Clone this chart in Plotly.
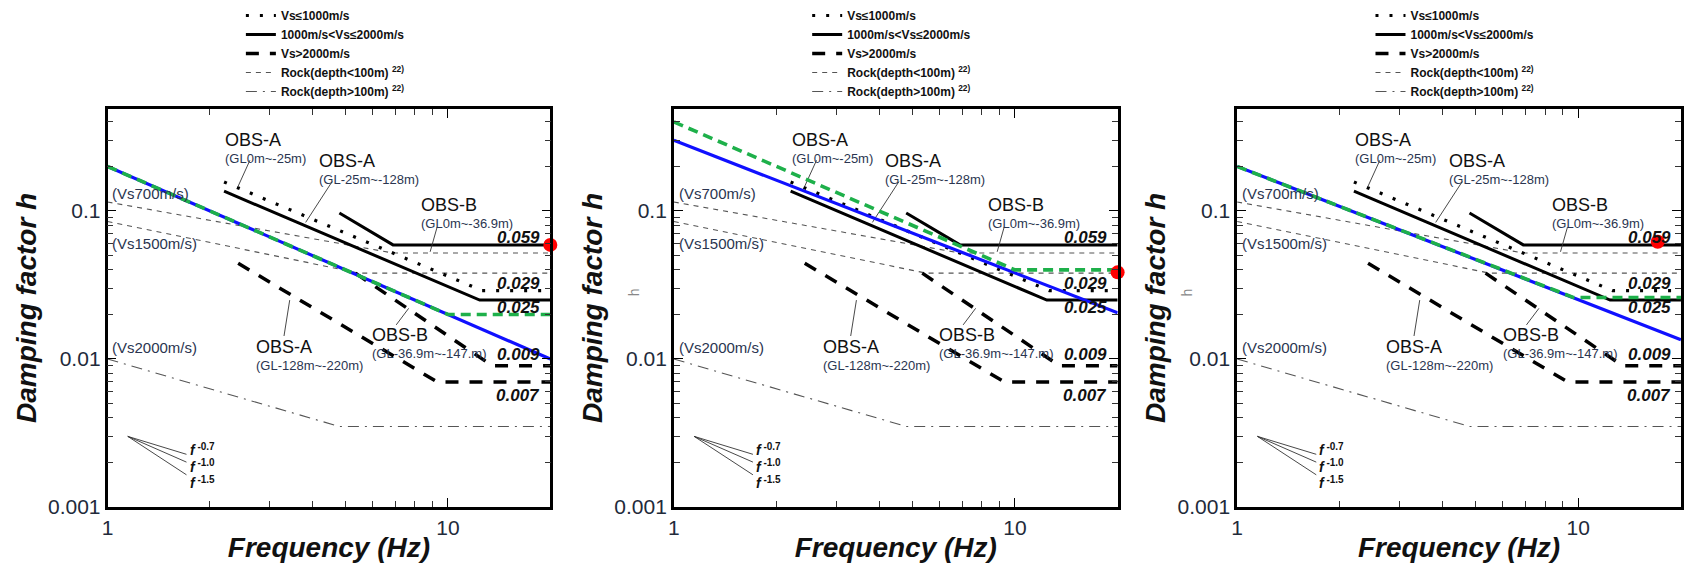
import math
import plotly.graph_objects as go

# ---------------- data (frequency in Hz, damping factor h) ----------------
# reference curves (identical in the three panels)
f_vs1000 = [2.2, 12.6, 20]            # OBS-A GL0m~-25m  (Vs<=1000)
h_vs1000 = [0.157, 0.029, 0.029]
f_solid_a = [2.2, 12.4, 20]           # OBS-A GL-25m~-128m
h_solid_a = [0.136, 0.025, 0.025]
f_solid_b = [4.8, 6.9, 20]            # OBS-B GL0m~-36.9m
h_solid_b = [0.097, 0.059, 0.059]
f_dash_a = [2.42, 9.3, 20]            # OBS-A GL-128m~-220m
h_dash_a = [0.0443, 0.007, 0.007]
f_dash_b = [5.35, 13.5, 20]           # OBS-B GL-36.9m~-147m
h_dash_b = [0.038, 0.009, 0.009]
f_rock700 = [1, 6.9, 20]
h_rock700 = [0.115, 0.052, 0.052]
f_rock1500 = [1, 5.5, 20]
h_rock1500 = [0.085, 0.038, 0.038]
f_rock2000 = [1, 4.8, 20]
h_rock2000 = [0.010, 0.0035, 0.0035]

# leader lines of labels
leader_f = [[2.62, 2.42], [4.57, 3.82], [9.3, 8.87], [3.3, 3.43], [7.05, 7.67]]
leader_h = [[0.22, 0.147], [0.158, 0.0837], [0.078, 0.053], [0.0143, 0.025], [0.017, 0.022]]

# slope indicator (f^-0.7, f^-1.0, f^-1.5)
slope_f0, slope_h0 = 1.147, 0.003
slope_f1 = 1.706
slope_h1 = [0.00227, 0.00201, 0.00165]
slope_labels = ["-0.7", "-1.0", "-1.5"]
slope_label_f, slope_label_h = 1.72, 0.00188

# overlay curves per panel
blue_f = [[1, 20], [1, 20], [1, 20]]
blue_h = [[0.2, 0.01], [0.30, 0.0205], [0.2, 0.0135]]
green_f = [[1, 10, 20], [1, 10, 20], [1, 9.7, 20]]
green_h = [[0.2, 0.02, 0.02], [0.40, 0.04, 0.04], [0.2, 0.026, 0.026]]
red_f = [20, 20, 17.1]
red_h = [0.059, 0.0385, 0.062]

# text labels
obs_titles = ["OBS-A", "OBS-A", "OBS-B", "OBS-A", "OBS-B"]
obs_depths = ["(GL0m~-25m)", "(GL-25m~-128m)", "(GL0m~-36.9m)", "(GL-128m~-220m)", "(GL-36.9m~-147.m)"]
obs_label_f = [2.2, 4.14, 8.3, 2.715, 5.96]           # left edge of the label block
obs_label_h = [0.266, 0.192, 0.0975, 0.0107, 0.0129]  # middle of the label block
vs_labels = ["(Vs700m/s)", "(Vs1500m/s)", "(Vs2000m/s)"]
vs_label_f = 1.02
vs_label_h = [0.132, 0.060, 0.0119]
value_labels = ["0.059", "0.029", "0.025", "0.009", "0.007"]
value_label_f = 18.8
value_label_h = [0.0665, 0.0326, 0.0222, 0.0108, 0.0057]

legend_names = ["Vs≤1000m/s", "1000m/s&lt;Vs≤2000m/s", "Vs&gt;2000m/s",
                "Rock(depth&lt;100m) <sup>22)</sup>", "Rock(depth&gt;100m) <sup>22)</sup>"]

# ---------------- layout geometry ----------------
W, H = 1684, 569
x_domains = [(102, 547), (671, 1117), (1237, 1683)]
y_dom = (1 - 517 / H, 1 - 111 / H)

FONT = "Liberation Sans, Arial, sans-serif"
NARROW = "Liberation Sans Narrow, Arial Narrow, Liberation Sans, sans-serif"
L = math.log10


def seg(*pairs):
    xs, ys = [], []
    for fx, hy in pairs:
        xs += list(fx) + [None]
        ys += list(hy) + [None]
    return xs[:-1], ys[:-1]


fig = go.Figure()
annotations = []

slope_text = "<br>".join(
    f"<span style='font-size:14px'><b><i>f</i></b></span>"
    f"<sup><span style='font-size:10px'><b> {t}</b></span></sup>" for t in slope_labels)

for i in range(3):
    xa = "x" if i == 0 else f"x{i+1}"
    ya = "y" if i == 0 else f"y{i+1}"
    lg = "legend" if i == 0 else f"legend{i+1}"
    common = dict(xaxis=xa, yaxis=ya, mode="lines", legend=lg, hoverinfo="skip")

    # legend-bearing reference curves
    xs, ys = seg((f_rock700, h_rock700), (f_rock1500, h_rock1500))
    rock_lo = go.Scatter(x=xs, y=ys, name=legend_names[3], legendrank=4,
                         line=dict(color="#555555", width=1.1, dash="5px,5px"), **common)
    rock_hi = go.Scatter(x=f_rock2000, y=h_rock2000, name=legend_names[4], legendrank=5,
                         line=dict(color="#555555", width=1.1, dash="11px,6px,2px,6px"), **common)
    dot = go.Scatter(x=f_vs1000, y=h_vs1000, name=legend_names[0], legendrank=1,
                     line=dict(color="black", width=3.2, dash="3px,11px"), **common)
    xs, ys = seg((f_solid_a, h_solid_a), (f_solid_b, h_solid_b))
    solid = go.Scatter(x=xs, y=ys, name=legend_names[1], legendrank=2,
                       line=dict(color="black", width=3), **common)
    xs, ys = seg((f_dash_a, h_dash_a), (f_dash_b, h_dash_b))
    dash = go.Scatter(x=xs, y=ys, name=legend_names[2], legendrank=3,
                      line=dict(color="black", width=3.5, dash="13px,11px"), **common)
    for tr in (rock_lo, rock_hi, dot, solid, dash):
        fig.add_trace(tr)

    nolg = dict(xaxis=xa, yaxis=ya, mode="lines", showlegend=False, hoverinfo="skip")
    # leader lines
    xs, ys = seg(*zip(leader_f, leader_h))
    fig.add_trace(go.Scatter(x=xs, y=ys, line=dict(color="#333333", width=0.9), **nolg))
    # slope indicator
    sx, sy = [], []
    for hh in slope_h1:
        sx += [slope_f0, slope_f1, None]
        sy += [slope_h0, hh, None]
    fig.add_trace(go.Scatter(x=sx[:-1], y=sy[:-1], line=dict(color="#333333", width=0.9), **nolg))

    # overlay curves
    fig.add_trace(go.Scatter(x=blue_f[i], y=blue_h[i], line=dict(color="#1010ff", width=3.2), **nolg))
    fig.add_trace(go.Scatter(x=green_f[i], y=green_h[i],
                             line=dict(color="#1eb04a", width=3.6, dash="10px,6px"), **nolg))
    fig.add_trace(go.Scatter(x=[red_f[i]], y=[red_h[i]], xaxis=xa, yaxis=ya, mode="markers",
                             marker=dict(color="#ff0000", size=14), showlegend=False,
                             cliponaxis=False, hoverinfo="skip"))

    # ---- text annotations (log axes take log10 positions) ----
    for t, d, fx, hy in zip(obs_titles, obs_depths, obs_label_f, obs_label_h):
        annotations.append(dict(x=L(fx), y=L(hy), xref=xa, yref=ya, showarrow=False,
                                xanchor="left", yanchor="middle", align="left", borderpad=0,
                                text=f"<span style='font-size:18px;color:#111111'>{t}</span><br>{d}",
                                font=dict(family=NARROW, size=13, color="#2a3550")))
    for t, hy in zip(vs_labels, vs_label_h):
        annotations.append(dict(x=L(vs_label_f), y=L(hy), xref=xa, yref=ya, text=t, showarrow=False,
                                xanchor="left", font=dict(family=NARROW, size=15, color="#2a3550")))
    for t, hy in zip(value_labels, value_label_h):
        annotations.append(dict(x=L(value_label_f), y=L(hy), xref=xa, yref=ya, text=t,
                                showarrow=False, xanchor="right", borderpad=0,
                                font=dict(family=FONT, size=17, color="#111111",
                                          weight="bold", style="italic")))
    annotations.append(dict(x=L(slope_label_f), y=L(slope_label_h), xref=xa, yref=ya,
                            text=slope_text, showarrow=False, xanchor="left", yanchor="middle",
                            align="left", font=dict(family=FONT, size=12.5, color="#111111")))
    if i > 0:
        annotations.append(dict(x=(x_domains[i][0] - 40) / W, y=1 - 298 / H, xref="paper", yref="paper",
                                text="h", textangle=-90, showarrow=False,
                                font=dict(family=FONT, size=14, color="#888888")))

# ---------------- axes ----------------
x_major = [1, 10]
x_minor = [2, 3, 4, 5, 6, 7, 8, 9, 20]
y_major = [0.001, 0.01, 0.1]
y_minor = [0.002, 0.003, 0.004, 0.005, 0.006, 0.007, 0.008, 0.009,
           0.02, 0.03, 0.04, 0.05, 0.06, 0.07, 0.08, 0.09, 0.2, 0.3, 0.4]

layout = dict(width=W, height=H, margin=dict(l=0, r=0, t=0, b=0),
              plot_bgcolor="white", paper_bgcolor="white",
              font=dict(family=FONT, color="#222222"),
              annotations=annotations)

for i in range(3):
    xk = "xaxis" if i == 0 else f"xaxis{i+1}"
    yk = "yaxis" if i == 0 else f"yaxis{i+1}"
    lk = "legend" if i == 0 else f"legend{i+1}"
    x0, x1 = x_domains[i]
    layout[xk] = dict(type="log", range=[0, 1.3012], domain=[x0 / W, x1 / W],
                      anchor="y" if i == 0 else f"y{i+1}",
                      tickmode="array", tickvals=x_major, ticktext=["1", "10"],
                      ticks="inside", ticklen=9, tickwidth=1.2, tickcolor="black",
                      minor=dict(tickmode="array", tickvals=x_minor, ticks="inside",
                                 ticklen=6, tickwidth=1, tickcolor="#333333"),
                      showline=True, linecolor="black", linewidth=2.5, mirror="allticks",
                      showgrid=False, zeroline=False,
                      tickfont=dict(size=21, color="#222a3a"),
                      title=dict(text="Frequency (Hz)", standoff=0,
                                 font=dict(size=28, weight="bold", style="italic", color="#111111")))
    layout[yk] = dict(type="log", range=[-3, -0.31], domain=list(y_dom),
                      anchor="x" if i == 0 else f"x{i+1}",
                      tickmode="array", tickvals=y_major, ticktext=["0.001", "0.01", "0.1"],
                      ticks="inside", ticklen=9, tickwidth=1.2, tickcolor="black",
                      minor=dict(tickmode="array", tickvals=y_minor, ticks="inside",
                                 ticklen=6, tickwidth=1, tickcolor="#333333"),
                      showline=True, linecolor="black", linewidth=2.5, mirror="allticks",
                      showgrid=False, zeroline=False,
                      tickfont=dict(size=21, color="#222a3a"),
                      title=dict(text="Damping factor h", standoff=4,
                                 font=dict(size=28, weight="bold", style="italic", color="#111111")))
    layout[lk] = dict(x=(x0 + 134) / W, y=1 - 1 / H, xanchor="left", yanchor="top",
                      bgcolor="rgba(0,0,0,0)", traceorder="normal", tracegroupgap=0,
                      itemwidth=30,
                      font=dict(family=FONT, size=12, color="#111111", weight="bold"))

fig.update_layout(**layout)
fig.write_html("out.html")
